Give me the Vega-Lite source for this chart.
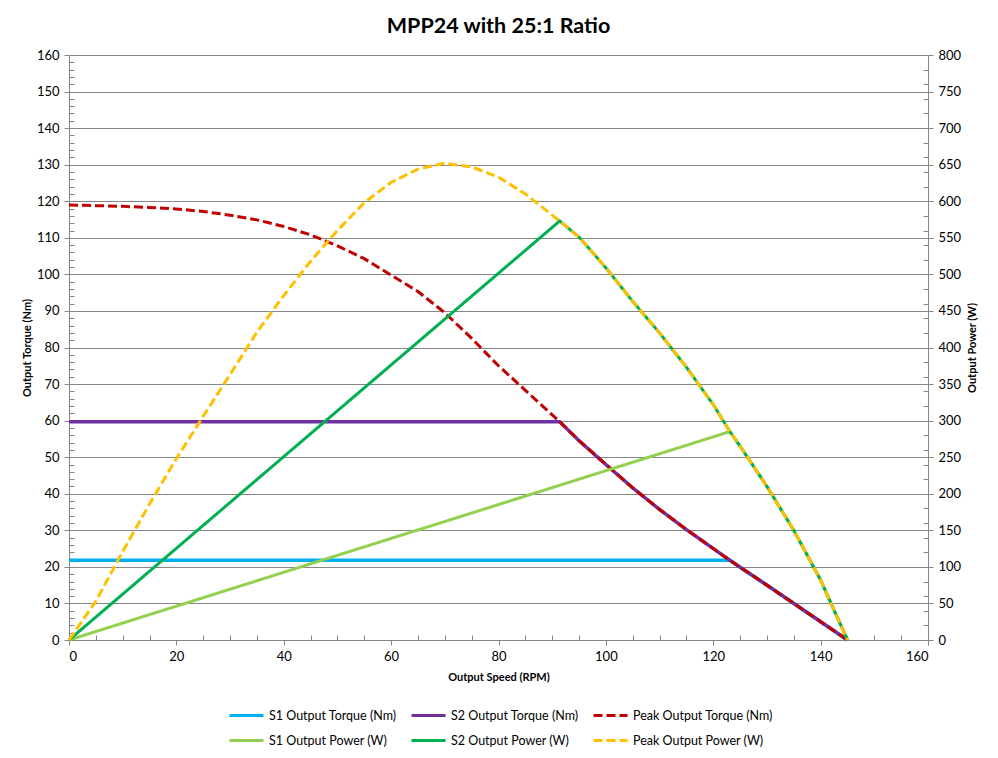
{
  "$schema": "https://vega.github.io/schema/vega-lite/v6.json",
  "width": 859,
  "height": 585,
  "autosize": "none",
  "padding": {"left": 69, "top": 55, "right": 70, "bottom": 118},
  "background": "white",
  "title": {"text": "MPP24 with 25:1 Ratio", "font": "Lato", "fontSize": 21.5, "fontWeight": "bold", "color": "#000000", "anchor": "middle", "offset": 12},
  "config": {
    "font": "Lato",
    "view": {"stroke": null},
    "axis": {
      "labelFont": "Lato", "labelFontSize": 13, "labelColor": "#000000",
      "titleFont": "Lato", "titleFontSize": 11, "titleFontWeight": "bold", "titleColor": "#000000",
      "domainColor": "#868686", "tickColor": "#868686", "gridColor": "#868686", "gridOpacity": 1,
      "tickSize": 5, "domainWidth": 1, "tickWidth": 1, "gridWidth": 1
    },
    "legend": {
      "labelFont": "Lato", "labelFontSize": 12.5, "labelColor": "#000000", "labelLimit": 400,
      "symbolType": "stroke", "symbolSize": 1156, "symbolStrokeWidth": 3,
      "columnPadding": 8, "rowPadding": -10, "labelOffset": 4
    }
  },
  "data": {
    "values": [
      {"series": "S1 Output Torque (Nm)", "speed": 0, "value": 21.8},
      {"series": "S1 Output Torque (Nm)", "speed": 123.1, "value": 21.8},
      {"series": "S1 Output Torque (Nm)", "speed": 125, "value": 19.9},
      {"series": "S1 Output Torque (Nm)", "speed": 130, "value": 15.0},
      {"series": "S1 Output Torque (Nm)", "speed": 135, "value": 10.0},
      {"series": "S1 Output Torque (Nm)", "speed": 140, "value": 5.0},
      {"series": "S1 Output Torque (Nm)", "speed": 145, "value": 0},

      {"series": "S2 Output Torque (Nm)", "speed": 0, "value": 59.7},
      {"series": "S2 Output Torque (Nm)", "speed": 91.4, "value": 59.7},
      {"series": "S2 Output Torque (Nm)", "speed": 95, "value": 54.5},
      {"series": "S2 Output Torque (Nm)", "speed": 100, "value": 48.0},
      {"series": "S2 Output Torque (Nm)", "speed": 105, "value": 41.6},
      {"series": "S2 Output Torque (Nm)", "speed": 110, "value": 35.7},
      {"series": "S2 Output Torque (Nm)", "speed": 115, "value": 30.2},
      {"series": "S2 Output Torque (Nm)", "speed": 120, "value": 25.0},
      {"series": "S2 Output Torque (Nm)", "speed": 123.1, "value": 21.8},
      {"series": "S2 Output Torque (Nm)", "speed": 125, "value": 19.9},
      {"series": "S2 Output Torque (Nm)", "speed": 130, "value": 15.0},
      {"series": "S2 Output Torque (Nm)", "speed": 135, "value": 10.0},
      {"series": "S2 Output Torque (Nm)", "speed": 140, "value": 5.0},
      {"series": "S2 Output Torque (Nm)", "speed": 145, "value": 0},

      {"series": "Peak Output Torque (Nm)", "speed": 0, "value": 119.0},
      {"series": "Peak Output Torque (Nm)", "speed": 5, "value": 118.8},
      {"series": "Peak Output Torque (Nm)", "speed": 10, "value": 118.6},
      {"series": "Peak Output Torque (Nm)", "speed": 15, "value": 118.3},
      {"series": "Peak Output Torque (Nm)", "speed": 20, "value": 117.9},
      {"series": "Peak Output Torque (Nm)", "speed": 25, "value": 117.2},
      {"series": "Peak Output Torque (Nm)", "speed": 30, "value": 116.2},
      {"series": "Peak Output Torque (Nm)", "speed": 35, "value": 114.9},
      {"series": "Peak Output Torque (Nm)", "speed": 40, "value": 113.1},
      {"series": "Peak Output Torque (Nm)", "speed": 45, "value": 110.8},
      {"series": "Peak Output Torque (Nm)", "speed": 50, "value": 107.8},
      {"series": "Peak Output Torque (Nm)", "speed": 55, "value": 104.3},
      {"series": "Peak Output Torque (Nm)", "speed": 60, "value": 99.8},
      {"series": "Peak Output Torque (Nm)", "speed": 65, "value": 95.3},
      {"series": "Peak Output Torque (Nm)", "speed": 70, "value": 89.5},
      {"series": "Peak Output Torque (Nm)", "speed": 75, "value": 82.5},
      {"series": "Peak Output Torque (Nm)", "speed": 80, "value": 75.0},
      {"series": "Peak Output Torque (Nm)", "speed": 85, "value": 68.3},
      {"series": "Peak Output Torque (Nm)", "speed": 91.4, "value": 59.7},
      {"series": "Peak Output Torque (Nm)", "speed": 95, "value": 54.5},
      {"series": "Peak Output Torque (Nm)", "speed": 100, "value": 48.0},
      {"series": "Peak Output Torque (Nm)", "speed": 105, "value": 41.6},
      {"series": "Peak Output Torque (Nm)", "speed": 110, "value": 35.7},
      {"series": "Peak Output Torque (Nm)", "speed": 115, "value": 30.2},
      {"series": "Peak Output Torque (Nm)", "speed": 120, "value": 25.0},
      {"series": "Peak Output Torque (Nm)", "speed": 123.1, "value": 21.8},
      {"series": "Peak Output Torque (Nm)", "speed": 125, "value": 19.9},
      {"series": "Peak Output Torque (Nm)", "speed": 130, "value": 15.0},
      {"series": "Peak Output Torque (Nm)", "speed": 135, "value": 10.0},
      {"series": "Peak Output Torque (Nm)", "speed": 140, "value": 5.0},
      {"series": "Peak Output Torque (Nm)", "speed": 145, "value": 0},

      {"series": "S1 Output Power (W)", "speed": 0, "value": 0},
      {"series": "S1 Output Power (W)", "speed": 123.1, "value": 285},
      {"series": "S1 Output Power (W)", "speed": 125, "value": 265},
      {"series": "S1 Output Power (W)", "speed": 130, "value": 210},
      {"series": "S1 Output Power (W)", "speed": 135, "value": 150},
      {"series": "S1 Output Power (W)", "speed": 140, "value": 82},
      {"series": "S1 Output Power (W)", "speed": 145, "value": 0},

      {"series": "S2 Output Power (W)", "speed": 0, "value": 0},
      {"series": "S2 Output Power (W)", "speed": 91.4, "value": 573},
      {"series": "S2 Output Power (W)", "speed": 95, "value": 551},
      {"series": "S2 Output Power (W)", "speed": 100, "value": 509},
      {"series": "S2 Output Power (W)", "speed": 105, "value": 463},
      {"series": "S2 Output Power (W)", "speed": 110, "value": 420},
      {"series": "S2 Output Power (W)", "speed": 115, "value": 373},
      {"series": "S2 Output Power (W)", "speed": 120, "value": 322},
      {"series": "S2 Output Power (W)", "speed": 123.1, "value": 285},
      {"series": "S2 Output Power (W)", "speed": 125, "value": 265},
      {"series": "S2 Output Power (W)", "speed": 130, "value": 210},
      {"series": "S2 Output Power (W)", "speed": 135, "value": 150},
      {"series": "S2 Output Power (W)", "speed": 140, "value": 82},
      {"series": "S2 Output Power (W)", "speed": 145, "value": 0},

      {"series": "Peak Output Power (W)", "speed": 0, "value": 0},
      {"series": "Peak Output Power (W)", "speed": 5, "value": 53},
      {"series": "Peak Output Power (W)", "speed": 10, "value": 121},
      {"series": "Peak Output Power (W)", "speed": 15, "value": 186},
      {"series": "Peak Output Power (W)", "speed": 20, "value": 248},
      {"series": "Peak Output Power (W)", "speed": 25, "value": 306},
      {"series": "Peak Output Power (W)", "speed": 30, "value": 363},
      {"series": "Peak Output Power (W)", "speed": 35, "value": 421},
      {"series": "Peak Output Power (W)", "speed": 40, "value": 471},
      {"series": "Peak Output Power (W)", "speed": 45, "value": 518},
      {"series": "Peak Output Power (W)", "speed": 50, "value": 560},
      {"series": "Peak Output Power (W)", "speed": 55, "value": 598},
      {"series": "Peak Output Power (W)", "speed": 60, "value": 626},
      {"series": "Peak Output Power (W)", "speed": 65, "value": 644},
      {"series": "Peak Output Power (W)", "speed": 70, "value": 652},
      {"series": "Peak Output Power (W)", "speed": 75, "value": 647},
      {"series": "Peak Output Power (W)", "speed": 80, "value": 633},
      {"series": "Peak Output Power (W)", "speed": 85, "value": 610},
      {"series": "Peak Output Power (W)", "speed": 91.4, "value": 573},
      {"series": "Peak Output Power (W)", "speed": 95, "value": 551},
      {"series": "Peak Output Power (W)", "speed": 100, "value": 509},
      {"series": "Peak Output Power (W)", "speed": 105, "value": 463},
      {"series": "Peak Output Power (W)", "speed": 110, "value": 420},
      {"series": "Peak Output Power (W)", "speed": 115, "value": 373},
      {"series": "Peak Output Power (W)", "speed": 120, "value": 322},
      {"series": "Peak Output Power (W)", "speed": 123.1, "value": 285},
      {"series": "Peak Output Power (W)", "speed": 125, "value": 265},
      {"series": "Peak Output Power (W)", "speed": 130, "value": 210},
      {"series": "Peak Output Power (W)", "speed": 135, "value": 150},
      {"series": "Peak Output Power (W)", "speed": 140, "value": 82},
      {"series": "Peak Output Power (W)", "speed": 145, "value": 0}
    ]
  },
  "encoding": {
    "color": {
      "field": "series", "type": "nominal",
      "scale": {
        "domain": ["S1 Output Torque (Nm)", "S2 Output Torque (Nm)", "Peak Output Torque (Nm)", "S1 Output Power (W)", "S2 Output Power (W)", "Peak Output Power (W)"],
        "range": ["#00B0F0", "#7030A0", "#C00000", "#92D050", "#00B050", "#FFC000"]
      },
      "legend": {"title": null, "orient": "none", "legendX": 159, "legendY": 642, "columns": 3, "direction": "horizontal"}
    },
    "strokeDash": {
      "field": "series", "type": "nominal",
      "scale": {
        "domain": ["S1 Output Torque (Nm)", "S2 Output Torque (Nm)", "Peak Output Torque (Nm)", "S1 Output Power (W)", "S2 Output Power (W)", "Peak Output Power (W)"],
        "range": [[1, 0], [1, 0], [9, 4], [1, 0], [1, 0], [9, 4]]
      },
      "legend": {"title": null, "orient": "none", "legendX": 159, "legendY": 642, "columns": 3, "direction": "horizontal"}
    }
  },
  "layer": [
    {
      "transform": [{"filter": "datum.series === 'S1 Output Torque (Nm)'"}],
      "mark": {"type": "line", "strokeWidth": 3.5},
      "encoding": {
        "x": {"field": "speed", "type": "quantitative", "scale": {"domain": [0, 160], "nice": false},
              "axis": {"orient": "bottom", "values": [0, 20, 40, 60, 80, 100, 120, 140, 160], "grid": false, "labelPadding": 5, "title": "Output Speed (RPM)", "titlePadding": 8}},
        "y": {"field": "value", "type": "quantitative", "scale": {"domain": [0, 160], "nice": false},
              "axis": {"orient": "left", "values": [0, 10, 20, 30, 40, 50, 60, 70, 80, 90, 100, 110, 120, 130, 140, 150, 160], "grid": true, "labelPadding": 5, "title": "Output Torque (Nm)", "titleAngle": 270, "titlePadding": 4}}
      }
    },
    {
      "transform": [{"filter": "datum.series === 'S2 Output Torque (Nm)'"}],
      "mark": {"type": "line", "strokeWidth": 3.5},
      "encoding": {
        "x": {"field": "speed", "type": "quantitative", "scale": {"domain": [0, 160], "nice": false},
              "axis": {"orient": "bottom", "values": [5, 10, 15, 25, 30, 35, 45, 50, 55, 65, 70, 75, 85, 90, 95, 105, 110, 115, 125, 130, 135, 145, 150, 155], "tickSize": -5, "labels": false, "domain": false, "grid": false, "title": null}},
        "y": {"field": "value", "type": "quantitative", "scale": {"domain": [0, 160], "nice": false},
              "axis": {"orient": "left", "values": [2, 4, 6, 8, 12, 14, 16, 18, 22, 24, 26, 28, 32, 34, 36, 38, 42, 44, 46, 48, 52, 54, 56, 58, 62, 64, 66, 68, 72, 74, 76, 78, 82, 84, 86, 88, 92, 94, 96, 98, 102, 104, 106, 108, 112, 114, 116, 118, 122, 124, 126, 128, 132, 134, 136, 138, 142, 144, 146, 148, 152, 154, 156, 158], "tickSize": -5, "labels": false, "domain": false, "grid": false, "title": null}}
      }
    },
    {
      "transform": [{"filter": "datum.series === 'Peak Output Torque (Nm)'"}],
      "mark": {"type": "line", "strokeWidth": 3},
      "encoding": {
        "x": {"field": "speed", "type": "quantitative", "scale": {"domain": [0, 160], "nice": false}, "axis": null},
        "y": {"field": "value", "type": "quantitative", "scale": {"domain": [0, 160], "nice": false}, "axis": null}
      }
    },
    {
      "transform": [{"filter": "datum.series === 'S1 Output Power (W)'"}],
      "mark": {"type": "line", "strokeWidth": 3},
      "encoding": {
        "x": {"field": "speed", "type": "quantitative", "scale": {"domain": [0, 160], "nice": false}, "axis": null},
        "y": {"field": "value", "type": "quantitative", "scale": {"domain": [0, 800], "nice": false},
              "axis": {"orient": "right", "values": [0, 50, 100, 150, 200, 250, 300, 350, 400, 450, 500, 550, 600, 650, 700, 750, 800], "grid": false, "labelPadding": 5, "title": "Output Power (W)", "titleAngle": 270, "titleBaseline": "top", "titlePadding": 6}}
      }
    },
    {
      "transform": [{"filter": "datum.series === 'S2 Output Power (W)'"}],
      "mark": {"type": "line", "strokeWidth": 3},
      "encoding": {
        "x": {"field": "speed", "type": "quantitative", "scale": {"domain": [0, 160], "nice": false}, "axis": null},
        "y": {"field": "value", "type": "quantitative", "scale": {"domain": [0, 800], "nice": false},
              "axis": {"orient": "right", "values": [20, 40, 60, 80, 120, 140, 160, 180, 220, 240, 260, 280, 320, 340, 360, 380, 420, 440, 460, 480, 520, 540, 560, 580, 620, 640, 660, 680, 720, 740, 760, 780], "tickSize": -5, "labels": false, "domain": false, "grid": false, "title": null}}
      }
    },
    {
      "transform": [{"filter": "datum.series === 'Peak Output Power (W)'"}],
      "mark": {"type": "line", "strokeWidth": 3},
      "encoding": {
        "x": {"field": "speed", "type": "quantitative", "scale": {"domain": [0, 160], "nice": false}, "axis": null},
        "y": {"field": "value", "type": "quantitative", "scale": {"domain": [0, 800], "nice": false}, "axis": null}
      }
    }
  ],
  "resolve": {"scale": {"y": "independent"}, "axis": {"x": "independent", "y": "independent"}}
}
